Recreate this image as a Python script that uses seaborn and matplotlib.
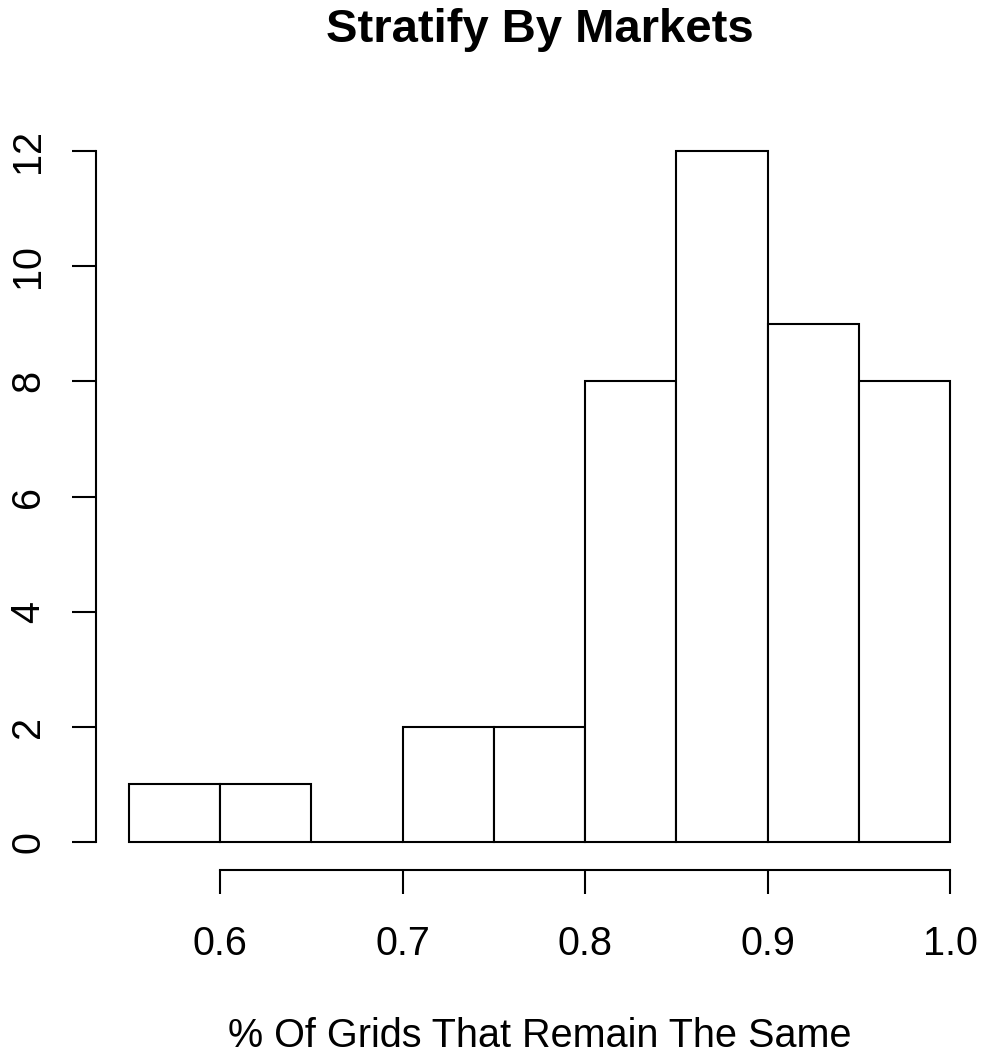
import matplotlib
matplotlib.use("Agg")
import matplotlib.pyplot as plt
import seaborn as sns
import numpy as np

bin_edges = [0.55, 0.60, 0.65, 0.70, 0.75, 0.80, 0.85, 0.90, 0.95, 1.00]
counts = [1, 1, 0, 2, 2, 8, 12, 9, 8]
x_ticks = [0.6, 0.7, 0.8, 0.9, 1.0]
x_tick_labels = ["0.6", "0.7", "0.8", "0.9", "1.0"]
y_ticks = [0, 2, 4, 6, 8, 10, 12]
title = "Stratify By Markets"
xlabel = "% Of Grids That Remain The Same"

sns.set_theme(style="white")
plt.rcParams['font.family'] = ['Liberation Sans', 'DejaVu Sans']
plt.rcParams['text.color'] = 'black'
plt.rcParams['xtick.color'] = 'black'
plt.rcParams['ytick.color'] = 'black'
plt.rcParams['axes.labelcolor'] = 'black'

W, H = 982, 1054
fig = plt.figure(figsize=(W/100, H/100), dpi=100)
ax = fig.add_axes([96/W, 184.4/H, (983-96)/W, (930.6-184.4)/H])

centers = [(bin_edges[i] + bin_edges[i+1]) / 2 for i in range(len(counts))]
sns.histplot(x=centers, weights=counts, bins=bin_edges, ax=ax,
             color="white", edgecolor="black", linewidth=1.5, alpha=1.0)

ax.set_xlim(0.532, 1.018)
ax.set_ylim(-0.48, 12.48)
for s in ["top", "right"]:
    ax.spines[s].set_visible(False)
ax.spines["left"].set_bounds(0, 12)
ax.spines["bottom"].set_bounds(0.6, 1.0)
for s in ["left", "bottom"]:
    ax.spines[s].set_color("black")
    ax.spines[s].set_linewidth(1.5)

ax.set_xticks(x_ticks)
ax.set_xticklabels(x_tick_labels)
ax.set_yticks(y_ticks)
ax.set_yticklabels([str(v) for v in y_ticks], rotation=90, va="center")
ax.tick_params(axis="both", which="major", direction="out", length=17, width=1.5,
               color="black", labelsize=28.5, left=True, bottom=True)
ax.tick_params(axis="x", pad=23)
ax.tick_params(axis="y", pad=18)
ax.set_xlabel("")
ax.set_ylabel("")
ax.grid(False)

cx = ax.get_position().x0 + ax.get_position().width / 2
fig.text(cx, 1 - 42/H, title, ha="center", va="baseline",
         fontsize=34, fontweight="bold")
fig.text(cx, 1 - 1047/H, xlabel, ha="center", va="baseline", fontsize=28.5)

fig.savefig("out.png", dpi=100)
